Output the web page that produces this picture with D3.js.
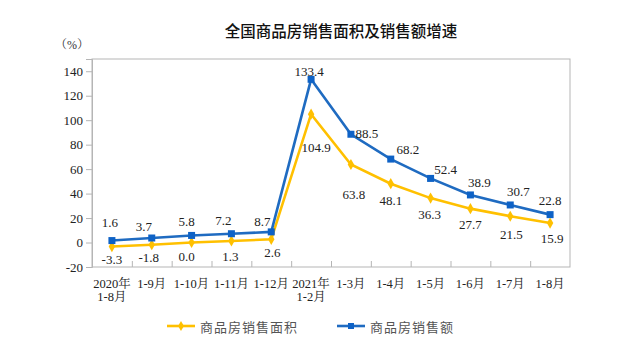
<!DOCTYPE html>
<html><head><meta charset="utf-8">
<script src="https://cdn.jsdelivr.net/npm/d3@7"></script>
<style>
html,body{margin:0;padding:0;background:#fff;}
svg{display:block;}
</style></head>
<body>
<svg id="chart" width="622" height="356"></svg>
<script>
const categoriesTop = ["2020年","1-9月","1-10月","1-11月","1-12月","2021年","1-3月","1-4月","1-5月","1-6月","1-7月","1-8月"];
const categoriesBottom = ["1-8月","","","","","1-2月","","","","","",""];
const areaGrowth = [-3.3,-1.8,0.0,1.3,2.6,104.9,63.8,48.1,36.3,27.7,21.5,15.9];
const salesGrowth = [1.6,3.7,5.8,7.2,8.7,133.4,88.5,68.2,52.4,38.9,30.7,22.8];
const yTicks = [-20,0,20,40,60,80,100,120,140];
const seriesNames = ["商品房销售面积","商品房销售额"];

// label offsets (layout only)
const salesLabelDx = [-2,-8,-5,-8,-9,-2,16,17,15,9,8,0];
const salesLabelDy = [-18,-12,-14,-13,-10,-8,-1,-10,-9,-12,-13,-14];
const areaLabelDx = [0,-3,-5,-1,1,5,3,0,-1,0,1,2];
const areaLabelDy = [13,13,14,16,13,33,30,17,16,16,18,15];

const W = 622, H = 356;
const margin = {left:92, right:52, top:59, bottom:89};
const yellow = "#FFC000", blue = "#1F6BC1";
const svg = d3.select("#chart");
const serif = "'Liberation Serif','Times New Roman','Noto Serif CJK SC','Noto Sans CJK SC',serif";
const cjk = "'Noto Sans CJK SC','Microsoft YaHei',sans-serif";
const fmt1 = v => v.toFixed(1);

const x = d3.scaleBand().domain(d3.range(categoriesTop.length)).range([margin.left, W - margin.right]);
const y = d3.scaleLinear().domain([-20,150]).range([H - margin.bottom, margin.top]);
const cx = i => x(i) + x.bandwidth()/2;

// title
svg.append("text").attr("x", 341).attr("y", 30).attr("text-anchor","middle")
  .attr("dominant-baseline","central")
  .style("font-family", cjk).style("font-size","15.5px").style("font-weight","500").style("fill","#111")
  .text("全国商品房销售面积及销售额增速");

svg.append("text").attr("x", 72).attr("y", 45).attr("text-anchor","middle")
  .attr("dominant-baseline","central")
  .style("font-family", serif).style("font-size","12px").style("fill","#333").text("（%）");

// frame
svg.append("rect").attr("x", margin.left).attr("y", margin.top)
  .attr("width", W - margin.left - margin.right).attr("height", H - margin.top - margin.bottom)
  .attr("fill","none").attr("stroke","#b5b5b5").attr("stroke-width",1);

// y axis
const yAxis = svg.append("g").attr("transform", `translate(${margin.left},0)`)
  .call(d3.axisLeft(y).tickValues(yTicks).tickSize(6).tickPadding(3).tickFormat(d => String(d)));
yAxis.select(".domain").attr("stroke","#b5b5b5");
yAxis.selectAll(".tick line").attr("stroke","#b5b5b5");
yAxis.selectAll(".tick text").style("font-family", serif).style("font-size","13px").style("fill","#222");

// x axis ticks (inward, between categories)
const xb = d3.scaleLinear().domain([0, categoriesTop.length]).range([margin.left, W - margin.right]);
const xAxis = svg.append("g").attr("transform", `translate(0,${H - margin.bottom})`)
  .call(d3.axisBottom(xb).tickValues(d3.range(1, categoriesTop.length)).tickSize(-6).tickFormat(""));
xAxis.select(".domain").remove();
xAxis.selectAll(".tick line").attr("stroke","#b5b5b5");

// x labels
const xl = svg.append("g");
categoriesTop.forEach((c,i) => {
  xl.append("text").attr("x", cx(i)).attr("y", 283.5).attr("text-anchor","middle")
    .attr("dominant-baseline","central")
    .style("font-family", serif).style("font-size","12.5px").style("fill","#222").text(c);
  if (categoriesBottom[i]) {
    xl.append("text").attr("x", cx(i)).attr("y", 297).attr("text-anchor","middle")
      .attr("dominant-baseline","central")
      .style("font-family", serif).style("font-size","12.5px").style("fill","#222").text(categoriesBottom[i]);
  }
});

const line = d3.line().x((d,i) => cx(i)).y(d => y(d));

// area series (yellow, diamonds)
svg.append("path").datum(areaGrowth).attr("d", line)
  .attr("fill","none").attr("stroke", yellow).attr("stroke-width",2.6).attr("stroke-linejoin","miter");
svg.append("g").selectAll("path").data(areaGrowth).join("path")
  .attr("d", d3.symbol(d3.symbolDiamond, 36)())
  .attr("transform",(d,i)=>`translate(${cx(i)},${y(d)})`)
  .attr("fill", yellow);

// sales series (blue, squares)
svg.append("path").datum(salesGrowth).attr("d", line)
  .attr("fill","none").attr("stroke", blue).attr("stroke-width",2.6).attr("stroke-linejoin","miter");
svg.append("g").selectAll("rect").data(salesGrowth).join("rect")
  .attr("x",(d,i)=>cx(i)-3.5).attr("y", d=>y(d)-3.5).attr("width",7).attr("height",7)
  .attr("fill", "#0E62C6");

// data labels
const lab = svg.append("g").style("font-family", serif).style("font-size","13px").style("fill","#222");
salesGrowth.forEach((v,i) => {
  lab.append("text").attr("x", cx(i)+salesLabelDx[i]).attr("y", y(v)+salesLabelDy[i])
    .attr("text-anchor","middle").attr("dominant-baseline","central").text(fmt1(v));
});
areaGrowth.forEach((v,i) => {
  lab.append("text").attr("x", cx(i)+areaLabelDx[i]).attr("y", y(v)+areaLabelDy[i])
    .attr("text-anchor","middle").attr("dominant-baseline","central").text(fmt1(v));
});

// legend
const leg = svg.append("g");
const legItems = [{name: seriesNames[0], color: yellow, x0: 167, type:"diamond"},
                  {name: seriesNames[1], color: blue, x0: 337, type:"square"}];
legItems.forEach(it => {
  leg.append("line").attr("x1", it.x0).attr("x2", it.x0+28).attr("y1",326).attr("y2",326)
    .attr("stroke", it.color).attr("stroke-width",2.6);
  if (it.type === "diamond") {
    leg.append("path").attr("d", d3.symbol(d3.symbolDiamond, 30)()).attr("transform",`translate(${it.x0+14},326)`).attr("fill", it.color);
  } else {
    leg.append("rect").attr("x", it.x0+11).attr("y", 323).attr("width",6).attr("height",6).attr("fill","#0E62C6");
  }
  leg.append("text").attr("x", it.x0+33).attr("y",326).attr("dominant-baseline","central")
    .style("font-family", cjk).style("font-size","13px").style("fill","#555").style("letter-spacing","1px").text(it.name);
});
</script>
</body></html>
